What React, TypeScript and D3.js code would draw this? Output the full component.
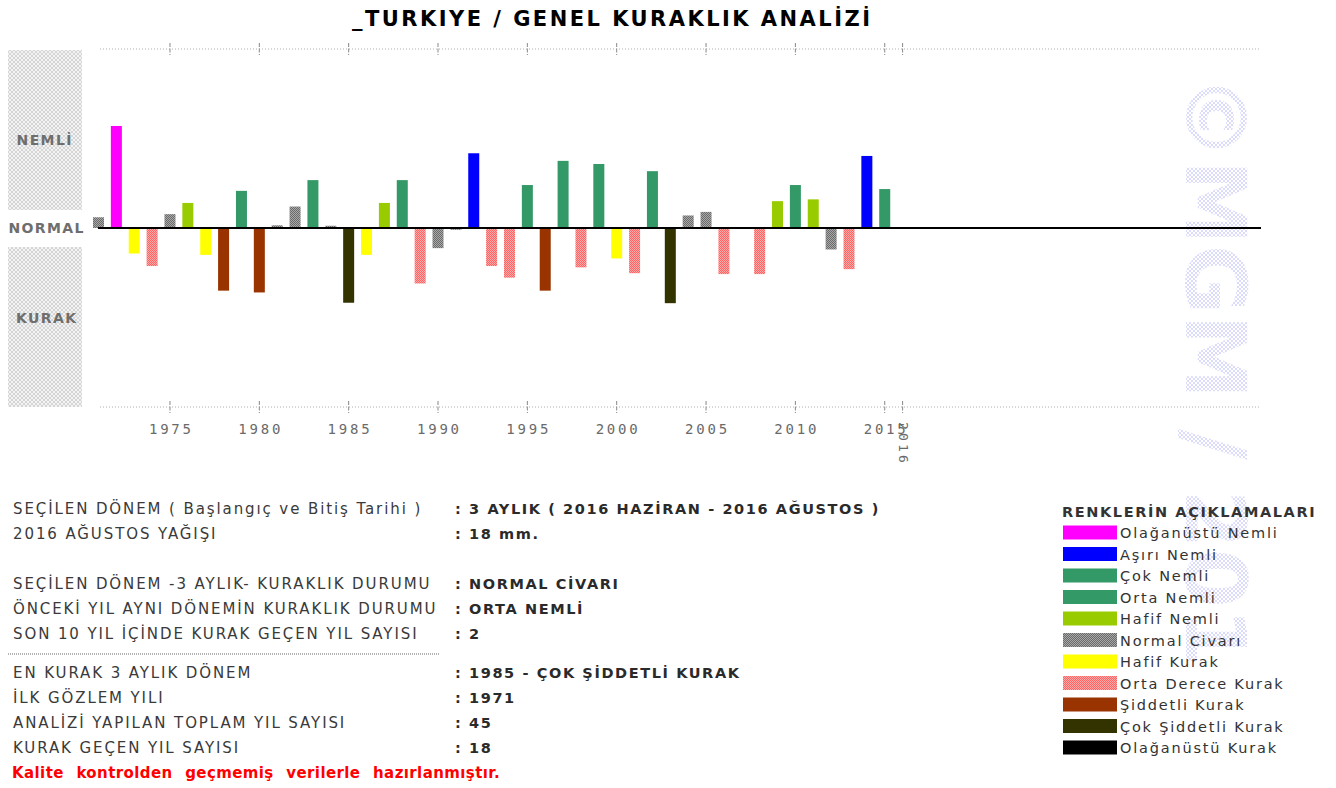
import React, { useEffect, useRef } from 'react'
import * as d3 from 'd3'

// yearly 3-month drought index (SPI-like)
const years = [
    1971, 1972, 1973, 1974, 1975, 1976, 1977, 1978, 1979, 1980,
    1981, 1982, 1983, 1984, 1985, 1986, 1987, 1988, 1989, 1990,
    1991, 1992, 1993, 1994, 1995, 1996, 1997, 1998, 1999, 2000,
    2001, 2002, 2003, 2004, 2005, 2006, 2007, 2008, 2009, 2010,
    2011, 2012, 2013, 2014, 2015,
]
const indexValues = [
    0.24, 2.28, -0.57, -0.85, 0.31, 0.56, -0.60, -1.40, 0.83, -1.44,
    0.06, 0.48, 1.07, 0.05, -1.67, -0.60, 0.56, 1.07, -1.24, -0.45,
    -0.04, 1.67, -0.85, -1.11, 0.96, -1.40, 1.50, -0.88, 1.43, -0.68,
    -1.01, 1.27, -1.68, 0.28, 0.36, -1.03, 0, -1.03, 0.60, 0.96,
    0.64, -0.48, -0.92, 1.61, 0.87,
]
const tickYears = [1975, 1980, 1985, 1990, 1995, 2000, 2005, 2010, 2015]
const lastYear = 2016

const legendLabels = [
    'Olağanüstü Nemli', 'Aşırı Nemli', 'Çok Nemli', 'Orta Nemli', 'Hafif Nemli',
    'Normal Civarı', 'Hafif Kurak', 'Orta Derece Kurak', 'Şiddetli Kurak',
    'Çok Şiddetli Kurak', 'Olağanüstü Kurak',
]
const legendColors = [
    '#ff00ff', '#0000ff', '#339966', '#339966', '#99cc00', '#808080',
    '#ffff00', '#ff8080', '#993300', '#333300', '#000000',
]
const classBreaks = [-2, -1.6, -1.3, -0.8, -0.5, 0.5, 0.8, 1.3, 1.6, 2]

const infoLabels = [
    'SEÇİLEN DÖNEM ( Başlangıç ve Bitiş Tarihi )',
    '2016 AĞUSTOS YAĞIŞI',
    'SEÇİLEN DÖNEM -3 AYLIK- KURAKLIK DURUMU',
    'ÖNCEKİ YIL AYNI DÖNEMİN KURAKLIK DURUMU',
    'SON 10 YIL İÇİNDE KURAK GEÇEN YIL SAYISI',
    'EN KURAK 3 AYLIK DÖNEM',
    'İLK GÖZLEM YILI',
    'ANALİZİ YAPILAN TOPLAM YIL SAYISI',
    'KURAK GEÇEN YIL SAYISI',
]
const infoValues = [
    ': 3 AYLIK ( 2016 HAZİRAN - 2016 AĞUSTOS )',
    ': 18 mm.',
    ': NORMAL CİVARI',
    ': ORTA NEMLİ',
    ': 2',
    ': 1985 - ÇOK ŞİDDETLİ KURAK',
    ': 1971',
    ': 45',
    ': 18',
]
const infoRowY = [508, 533, 583, 608, 633, 672, 697, 722, 747]

const W = 1336
const H = 788

export default function App() {
    const svgRef = useRef<SVGSVGElement>(null)

    useEffect(() => {
        if (!svgRef.current) return
        const svg = d3.select(svgRef.current)
        svg.selectAll('*').remove()

        const defs = svg.append('defs')
        // dithered fills, like the old gif
        const dither = (id: string, bg: string, fg: string) => {
            const p = defs.append('pattern').attr('id', id)
                .attr('width', 2).attr('height', 2).attr('patternUnits', 'userSpaceOnUse')
            p.append('rect').attr('width', 2).attr('height', 2).attr('fill', bg)
            p.append('rect').attr('width', 1).attr('height', 1).attr('fill', fg)
            p.append('rect').attr('x', 1).attr('y', 1).attr('width', 1).attr('height', 1).attr('fill', fg)
        }
        dither('ditherGray', '#a8a8a8', '#6a6a6a')
        dither('ditherPink', '#ffa8a8', '#ff6464')
        const hatch = (id: string, color: string, bg: string) => {
            const p = defs.append('pattern').attr('id', id)
                .attr('width', 4).attr('height', 4).attr('patternUnits', 'userSpaceOnUse')
            p.append('rect').attr('width', 4).attr('height', 4).attr('fill', bg)
            p.append('path').attr('d', 'M0,0L4,4M4,0L0,4')
                .attr('stroke', color).attr('stroke-width', 0.8).attr('fill', 'none')
        }
        hatch('hatchGray', '#cdcdcd', '#f3f3f3')
        hatch('hatchBlue', '#d2d2fa', 'none')

        const fillFor = (i: number) =>
            i === 5 ? 'url(#ditherGray)' : i === 7 ? 'url(#ditherPink)' : legendColors[i]

        const classOf = d3.scaleThreshold<number, number>()
            .domain(classBreaks)
            .range([10, 9, 8, 7, 6, 5, 4, 3, 2, 1, 0])

        const x = d3.scaleLinear().domain([1971, lastYear]).range([98.5, 902.6])
        const y = d3.scaleLinear().domain([-4, 4]).range([407, 49])
        const barW = 11

        // watermark (only "©MGM / 201" shows in the source image)
        svg.append('text')
            .attr('transform', `translate(1186,75) rotate(90)`)
            .attr('font-family', 'DejaVu Sans')
            .attr('font-weight', 'bold')
            .attr('font-size', 84)
            .attr('textLength', 592)
            .attr('lengthAdjust', 'spacingAndGlyphs')
            .attr('fill', 'url(#hatchBlue)')
            .text('©MGM / 201')

        // title
        svg.append('text')
            .attr('x', 352).attr('y', 26)
            .attr('font-family', 'DejaVu Sans')
            .attr('font-weight', 'bold')
            .attr('font-size', 21)
            .attr('textLength', 518)
            .attr('lengthAdjust', 'spacing')
            .attr('fill', '#000')
            .text('_TURKIYE / GENEL KURAKLIK ANALİZİ')

        // left side boxes
        const side = svg.append('g')
        side.append('rect').attr('x', 8).attr('y', 50).attr('width', 74).attr('height', 160).attr('fill', 'url(#hatchGray)')
        side.append('rect').attr('x', 8).attr('y', 247).attr('width', 74).attr('height', 160).attr('fill', 'url(#hatchGray)')
        const sideLabel = (t: string, cx: number, cy: number) =>
            side.append('text').attr('x', cx + 0.7).attr('y', cy + 5)
                .attr('text-anchor', 'middle')
                .attr('font-family', 'DejaVu Sans')
                .attr('font-weight', 'bold')
                .attr('font-size', 14)
                .attr('letter-spacing', 1.4)
                .attr('fill', '#6e6e6e')
                .text(t)
        sideLabel('NEMLİ', 44, 140)
        sideLabel('NORMAL', 46, 228)
        sideLabel('KURAK', 46, 318)

        // dotted frame lines and ticks
        const frame = svg.append('g')
        for (const yy of [y(4), y(-4)]) {
            frame.append('line')
                .attr('x1', 100).attr('x2', 1260).attr('y1', yy).attr('y2', yy)
                .attr('stroke', '#b0b0b0').attr('stroke-dasharray', '1,2')
            frame.selectAll(null)
                .data([...tickYears, lastYear])
                .enter().append('line')
                .attr('x1', d => x(d)).attr('x2', d => x(d))
                .attr('y1', yy - 6).attr('y2', yy + 6)
                .attr('stroke', '#888').attr('stroke-dasharray', '4,1.5')
        }

        frame.selectAll('text.tick')
            .data(tickYears)
            .enter().append('text')
            .attr('class', 'tick')
            .attr('x', d => x(d) + 1.4).attr('y', 434)
            .attr('text-anchor', 'middle')
            .attr('font-family', 'DejaVu Sans Mono')
            .attr('font-size', 14)
            .attr('letter-spacing', 2.8)
            .attr('fill', '#6a6a6a')
            .text(d => d)
        frame.append('text')
            .attr('transform', `translate(${x(lastYear) - 4},422) rotate(90)`)
            .attr('font-family', 'DejaVu Sans Mono')
            .attr('font-size', 13)
            .attr('letter-spacing', 3.2)
            .attr('fill', '#6a6a6a')
            .text(lastYear)

        // bars
        svg.append('g').selectAll('rect')
            .data(years.map((yr, i) => ({ yr, v: indexValues[i] })).filter(d => d.v !== 0))
            .enter().append('rect')
            .attr('x', d => x(d.yr) - barW / 2)
            .attr('y', d => y(Math.max(0, d.v)))
            .attr('width', barW)
            .attr('height', d => Math.abs(y(d.v) - y(0)))
            .attr('fill', d => fillFor(classOf(d.v)))

        // normal line
        svg.append('line')
            .attr('x1', 98).attr('x2', 1261).attr('y1', y(0)).attr('y2', y(0))
            .attr('stroke', '#000').attr('stroke-width', 2)

        // info block
        const info = svg.append('g')
        info.selectAll('text.lbl')
            .data(infoLabels)
            .enter().append('text')
            .attr('class', 'lbl')
            .attr('x', 13).attr('y', (d, i) => infoRowY[i] + 5.5)
            .attr('font-family', 'DejaVu Sans')
            .attr('font-size', 15)
            .attr('letter-spacing', 1.9)
            .attr('fill', '#3a3a3a')
            .text(d => d)
        info.selectAll('text.val')
            .data(infoValues)
            .enter().append('text')
            .attr('class', 'val')
            .attr('x', 455).attr('y', (d, i) => infoRowY[i] + 5.5)
            .attr('font-family', 'DejaVu Sans')
            .attr('font-weight', 'bold')
            .attr('font-size', 14.5)
            .attr('letter-spacing', 1.6)
            .attr('fill', '#2a2a2a')
            .text(d => d)
        info.append('line')
            .attr('x1', 8).attr('x2', 439).attr('y1', 654).attr('y2', 654)
            .attr('stroke', '#9a9a9a').attr('stroke-width', 1.5).attr('stroke-dasharray', '1,1')
        info.append('text')
            .attr('x', 12).attr('y', 778)
            .attr('font-family', 'DejaVu Sans')
            .attr('font-weight', 'bold')
            .attr('font-size', 15)
            .attr('letter-spacing', 0.4)
            .attr('word-spacing', 7)
            .attr('fill', '#ff0000')
            .text('Kalite kontrolden geçmemiş verilerle hazırlanmıştır.')

        // legend
        const legend = svg.append('g')
        legend.append('text')
            .attr('x', 1062).attr('y', 517)
            .attr('font-family', 'DejaVu Sans')
            .attr('font-weight', 'bold')
            .attr('font-size', 14.5)
            .attr('letter-spacing', 1.6)
            .attr('fill', '#333')
            .text('RENKLERİN AÇIKLAMALARI')
        const item = legend.selectAll('g.item')
            .data(legendLabels)
            .enter().append('g')
            .attr('class', 'item')
            .attr('transform', (d, i) => `translate(1063,${532.5 + i * 21.5})`)
        item.append('rect')
            .attr('x', 0).attr('y', -7).attr('width', 54).attr('height', 14)
            .attr('fill', (d, i) => fillFor(i))
        item.append('text')
            .attr('x', 57).attr('y', 5.5)
            .attr('font-family', 'DejaVu Sans')
            .attr('font-size', 14.5)
            .attr('letter-spacing', 1.8)
            .attr('fill', '#333')
            .text(d => d)
    }, [])

    return (
        <svg ref={svgRef} width={W} height={H}
            style={{ position: 'absolute', left: 0, top: 0, background: '#fff' }} />
    )
}
